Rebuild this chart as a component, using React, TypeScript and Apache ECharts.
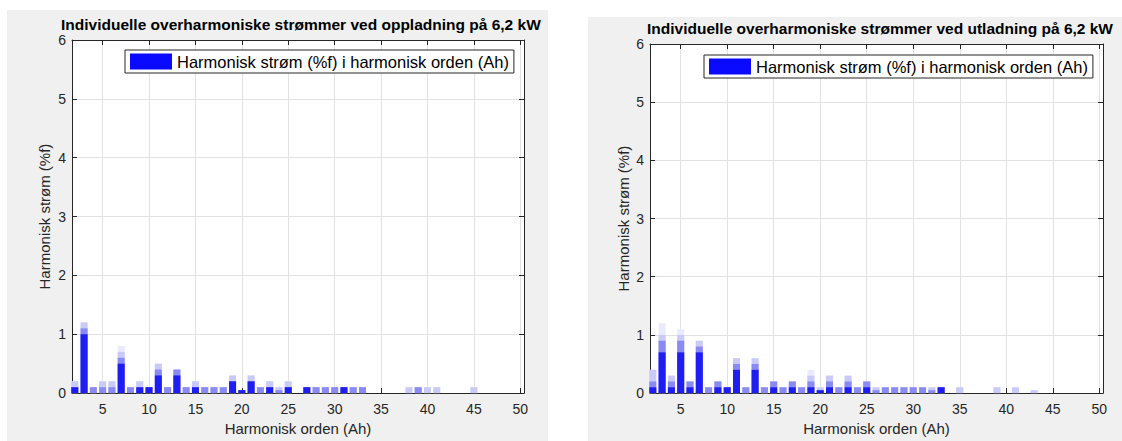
import { useEffect, useRef } from "react";
import * as echarts from "echarts";

// Harmonic orders (Ah) 2..50
const harmonicOrders = [
  2, 3, 4, 5, 6, 7, 8, 9, 10, 11, 12, 13, 14, 15, 16, 17, 18, 19, 20, 21, 22, 23, 24, 25, 26,
  27, 28, 29, 30, 31, 32, 33, 34, 35, 36, 37, 38, 39, 40, 41, 42, 43, 44, 45, 46, 47, 48, 49, 50,
];

const xTickLabels = ["5", "10", "15", "20", "25", "30", "35", "40", "45", "50"];

const legendName = "Harmonisk strøm (%f) i harmonisk orden (Ah)";
const titleCharge = "Individuelle overharmoniske strømmer ved oppladning på 6,2 kW";
const titleDischarge = "Individuelle overharmoniske strømmer ved utladning på 6,2 kW";
const xName = "Harmonisk orden (Ah)";
const yName = "Harmonisk strøm (%f)";

// Charging (oppladning) — layered values (typical / common / max / peak)
const chargeTypical = [
  0.1, 1.0, 0, 0, 0, 0.5, 0, 0.1, 0.1, 0.3, 0, 0.3, 0, 0.1, 0, 0, 0, 0.2, 0.05, 0.2, 0, 0.1, 0, 0.1, 0,
  0.1, 0, 0, 0, 0.1, 0, 0, 0, 0, 0, 0, 0, 0, 0, 0, 0, 0, 0, 0, 0, 0, 0, 0, 0,
];
const chargeCommon = [
  0.1, 1.1, 0.1, 0.1, 0.1, 0.6, 0.1, 0.1, 0.1, 0.4, 0.1, 0.4, 0.1, 0.1, 0.1, 0.1, 0.1, 0.2, 0.05, 0.2, 0.1, 0.1, 0.05, 0.1, 0,
  0.1, 0.1, 0.1, 0.1, 0.1, 0.1, 0.1, 0, 0, 0, 0, 0, 0.1, 0, 0, 0, 0, 0, 0, 0, 0, 0, 0, 0,
];
const chargeMax = [
  0.2, 1.2, 0.1, 0.2, 0.2, 0.7, 0.1, 0.2, 0.1, 0.5, 0.1, 0.4, 0.1, 0.2, 0.1, 0.1, 0.1, 0.3, 0.05, 0.3, 0.1, 0.2, 0.1, 0.2, 0,
  0.1, 0.1, 0.1, 0.1, 0.1, 0.1, 0.1, 0, 0, 0, 0, 0.1, 0.1, 0.1, 0.1, 0, 0, 0, 0.1, 0, 0, 0, 0, 0,
];
const chargePeak = [
  0.2, 1.2, 0.1, 0.2, 0.2, 0.8, 0.1, 0.2, 0.1, 0.5, 0.1, 0.4, 0.1, 0.2, 0.1, 0.1, 0.1, 0.3, 0.05, 0.3, 0.1, 0.2, 0.1, 0.2, 0,
  0.1, 0.1, 0.1, 0.1, 0.1, 0.1, 0.1, 0, 0, 0, 0, 0.1, 0.1, 0.1, 0.1, 0, 0, 0, 0.1, 0, 0, 0, 0, 0,
];

// Discharging (utladning)
const dischargeTypical = [
  0.1, 0.7, 0.1, 0.7, 0.1, 0.7, 0, 0.1, 0.1, 0.4, 0, 0.4, 0, 0.1, 0, 0.1, 0, 0.1, 0.05, 0.1, 0, 0.1, 0, 0.1, 0,
  0, 0, 0, 0, 0, 0, 0.1, 0, 0, 0, 0, 0, 0, 0, 0, 0, 0, 0, 0, 0, 0, 0, 0, 0,
];
const dischargeCommon = [
  0.2, 0.9, 0.2, 0.9, 0.2, 0.8, 0.1, 0.2, 0.1, 0.5, 0.1, 0.5, 0.1, 0.2, 0.1, 0.2, 0.1, 0.2, 0.05, 0.2, 0.1, 0.2, 0.1, 0.2, 0.05,
  0.1, 0.1, 0.1, 0.1, 0.1, 0.05, 0.1, 0, 0, 0, 0, 0, 0, 0, 0, 0, 0, 0, 0, 0, 0, 0, 0, 0,
];
const dischargeMax = [
  0.4, 1.0, 0.3, 1.0, 0.2, 0.9, 0.1, 0.2, 0.1, 0.6, 0.1, 0.6, 0.1, 0.2, 0.1, 0.2, 0.1, 0.3, 0.1, 0.3, 0.1, 0.3, 0.1, 0.2, 0.1,
  0.1, 0.1, 0.1, 0.1, 0.1, 0.1, 0.1, 0, 0.1, 0, 0, 0, 0.1, 0, 0.1, 0, 0.05, 0, 0, 0, 0, 0, 0, 0,
];
const dischargePeak = [
  0.4, 1.2, 0.3, 1.1, 0.2, 0.9, 0.1, 0.2, 0.1, 0.6, 0.1, 0.6, 0.1, 0.2, 0.1, 0.2, 0.1, 0.4, 0.1, 0.3, 0.1, 0.3, 0.1, 0.2, 0.1,
  0.1, 0.1, 0.1, 0.1, 0.1, 0.1, 0.1, 0, 0.1, 0, 0, 0, 0.1, 0, 0.1, 0, 0.05, 0, 0, 0, 0, 0, 0, 0,
];

const FONT = "'Liberation Sans', Arial, Helvetica, sans-serif";
const AXIS_COLOR = "#262626";
const GRID_COLOR = "#e2e2e2";
const LAYER_COLORS = ["#eaeafc", "#cacaf8", "#8a8af4", "#1e1ef2"];

function pairs(values: number[]) {
  return harmonicOrders.map((h, i) => [h, values[i]]);
}

function layerSeries(axisIndex: number, layers: number[][], tag: string) {
  const names = [tag + "-peak", tag + "-max", tag + "-common", legendName];
  return layers.map((vals, i) => ({
    type: "bar",
    name: names[i],
    xAxisIndex: axisIndex,
    yAxisIndex: axisIndex,
    data: pairs(vals),
    barWidth: 7,
    barGap: "-100%",
    itemStyle: { color: LAYER_COLORS[i] },
    emphasis: { disabled: true },
    silent: true,
  }));
}

function bottomX(grid: number) {
  return {
    gridIndex: grid,
    type: "value",
    position: "bottom",
    min: 1.7,
    max: 50.4,
    splitNumber: 10,
    name: xName,
    nameLocation: "middle",
    nameGap: 27,
    nameTextStyle: { fontSize: 15, color: AXIS_COLOR, fontFamily: FONT },
    axisLine: { show: true, onZero: false, lineStyle: { color: AXIS_COLOR, width: 1 } },
    axisTick: { show: true, inside: true, length: 5, lineStyle: { color: AXIS_COLOR } },
    axisLabel: {
      showMinLabel: false,
      showMaxLabel: false,
      margin: 9,
      fontSize: 14,
      color: AXIS_COLOR,
      fontFamily: FONT,
      formatter: (v: number) => {
        const s = String(v);
        return xTickLabels.includes(s) ? s : "";
      },
    },
    splitLine: { show: true, lineStyle: { color: GRID_COLOR, width: 1 } },
  };
}

function topX(grid: number) {
  return {
    gridIndex: grid,
    type: "value",
    position: "top",
    min: 1.7,
    max: 50.4,
    splitNumber: 10,
    axisLine: { show: true, onZero: false, lineStyle: { color: AXIS_COLOR, width: 1 } },
    axisTick: { show: true, inside: true, length: 5, lineStyle: { color: AXIS_COLOR } },
    axisLabel: { show: false },
    splitLine: { show: false },
  };
}

function leftY(grid: number, gap: number) {
  return {
    gridIndex: grid,
    type: "value",
    position: "left",
    min: 0,
    max: 6,
    interval: 1,
    name: yName,
    nameLocation: "middle",
    nameGap: gap,
    nameTextStyle: { fontSize: 15, color: AXIS_COLOR, fontFamily: FONT },
    axisLine: { show: true, onZero: false, lineStyle: { color: AXIS_COLOR, width: 1 } },
    axisTick: { show: true, inside: true, length: 5, lineStyle: { color: AXIS_COLOR } },
    axisLabel: { margin: 6, fontSize: 14, color: AXIS_COLOR, fontFamily: FONT },
    splitLine: { show: true, lineStyle: { color: GRID_COLOR, width: 1 } },
  };
}

function rightY(grid: number) {
  return {
    gridIndex: grid,
    type: "value",
    position: "right",
    min: 0,
    max: 6,
    interval: 1,
    axisLine: { show: true, onZero: false, lineStyle: { color: AXIS_COLOR, width: 1 } },
    axisTick: { show: true, inside: true, length: 5, lineStyle: { color: AXIS_COLOR } },
    axisLabel: { show: false },
    splitLine: { show: false },
  };
}

function legendAt(left: number, top: number) {
  return {
    left,
    top,
    orient: "horizontal",
    data: [{ name: legendName, itemStyle: { color: "#0a0aff" } }],
    icon: "rect",
    itemWidth: 42,
    itemHeight: 16,
    itemGap: 5,
    padding: [3, 5, 3, 5],
    backgroundColor: "#ffffff",
    borderColor: AXIS_COLOR,
    borderWidth: 1,
    borderRadius: 0,
    selectedMode: false,
    textStyle: { fontSize: 16.5, color: "#000", fontFamily: FONT, padding: [0, 0, 0, 0] },
  };
}

export default function App() {
  const ref = useRef<HTMLDivElement>(null);

  useEffect(() => {
    if (!ref.current) return;
    const chart = echarts.init(ref.current, null, { renderer: "svg" });
    const option = {
      animation: false,
      backgroundColor: "#ffffff",
      textStyle: { fontFamily: FONT },
      graphic: [
        { type: "rect", z: -10, silent: true, shape: { x: 7, y: 10, width: 541, height: 431 }, style: { fill: "#f0f0f0" } },
        { type: "rect", z: -10, silent: true, shape: { x: 588, y: 17, width: 534, height: 424 }, style: { fill: "#f0f0f0" } },
      ],
      title: [
        {
          text: titleCharge,
          left: 61,
          top: 16,
          padding: 0,
          textStyle: { fontSize: 15.5, fontWeight: "bold", color: "#000", fontFamily: FONT },
        },
        {
          text: titleDischarge,
          left: 647,
          top: 20,
          padding: 0,
          textStyle: { fontSize: 15.5, fontWeight: "bold", color: "#000", fontFamily: FONT },
        },
      ],
      legend: [legendAt(125, 50), legendAt(704, 55)],
      grid: [
        { left: 72, top: 40, width: 452, height: 355, show: true, backgroundColor: "#ffffff", borderWidth: 0 },
        { left: 650, top: 44, width: 453, height: 355, show: true, backgroundColor: "#ffffff", borderWidth: 0 },
      ],
      xAxis: [bottomX(0), topX(0), bottomX(1), topX(1)],
      yAxis: [leftY(0, 20), rightY(0), leftY(1, 19), rightY(1)],
      series: [
        ...layerSeries(0, [chargePeak, chargeMax, chargeCommon, chargeTypical], "opp"),
        ...layerSeries(2, [dischargePeak, dischargeMax, dischargeCommon, dischargeTypical], "ut"),
      ],
    };
    chart.setOption(option as any);
    return () => chart.dispose();
  }, []);

  return (
    <div
      ref={ref}
      style={{ position: "absolute", left: 0, top: 0, width: 1122, height: 441, background: "#fff" }}
    />
  );
}
